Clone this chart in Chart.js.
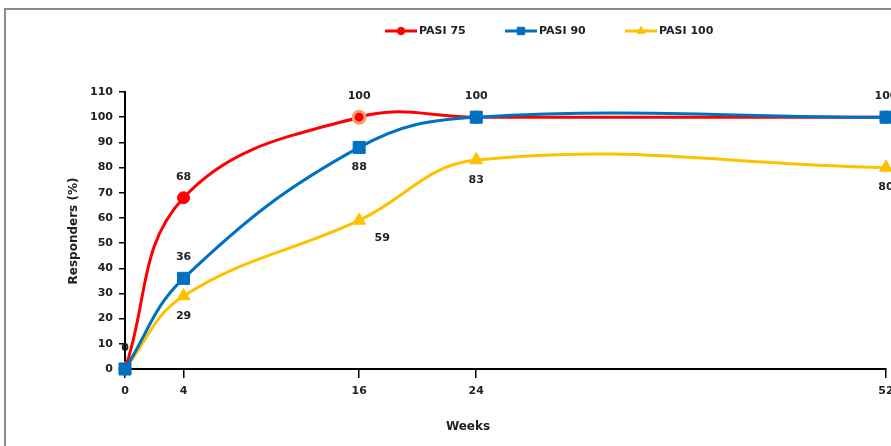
<!DOCTYPE html>
<html>
<head>
<meta charset="utf-8">
<script src="https://cdn.jsdelivr.net/npm/chart.js@4.4.1/dist/chart.umd.min.js"></script>
<style>
  html, body { margin: 0; padding: 0; background: #fff; overflow: hidden; width: 891px; height: 446px; }
  #frame { position: absolute; left: 4px; top: 8px; width: 1000px; height: 500px;
           border-top: 2px solid #8c8c8c; border-left: 2px solid #8c8c8c; }
  #wrap { position: absolute; left: 0; top: 0; width: 920px; height: 446px; }
</style>
</head>
<body>
<div id="frame"></div>
<div id="wrap"><canvas id="chart"></canvas></div>
<script>
// Weeks on the x axis and responder rates (%)
const weeks = [0, 4, 16, 24, 52];
const pasi75 = [0, 68, 100, 100, 100];
const pasi90 = [0, 36, 88, 100, 100];
const pasi100 = [0, 29, 59, 83, 80];
const yTicks = [0, 10, 20, 30, 40, 50, 60, 70, 80, 90, 100, 110];

// where each value label sits (null = not shown)
const place75 = ['above', 'above', 'above', null, null];
const place90 = [null, 'above', 'below', 'above', 'above'];
const place100 = [null, 'below', 'belowRight', 'below', 'below'];

const FONT = "'DejaVu Sans', 'Liberation Sans', sans-serif";

function toPoints(vals) {
    return vals.map((v, i) => ({ x: weeks[i], y: v }));
}

const series = [
    { label: 'PASI 75', data: pasi75, color: '#FF0000', style: 'circle', radius: 6, order: 1, place: place75 },
    { label: 'PASI 90', data: pasi90, color: '#0070C0', style: 'rect', radius: 8.5, order: 0, place: place90 },
    { label: 'PASI 100', data: pasi100, color: '#FFC000', style: 'triangle', radius: 7.5, order: 2, place: place100 }
];

const datasets = series.map(s => ({
    label: s.label,
    data: toPoints(s.data),
    borderColor: s.color,
    backgroundColor: s.color,
    pointBackgroundColor: s.color,
    pointBorderColor: s.style === 'circle' ? s.data.map((v, i) => i === 2 ? '#F4A06A' : s.color) : s.color,
    pointBorderWidth: s.style === 'circle' ? s.data.map((v, i) => i === 2 ? 3 : 1) : 1,
    borderWidth: 3,
    pointStyle: s.style,
    pointRadius: s.radius,
    tension: 0.4,
    clip: false,
    order: s.order
}));

// Draw value labels, legend and axis titles
const extrasPlugin = {
    id: 'extras',
    afterDraw(chart) {
        const ctx = chart.ctx;
        ctx.save();
        ctx.fillStyle = '#222';
        ctx.font = 'bold 11px ' + FONT;
        ctx.textAlign = 'center';
        ctx.textBaseline = 'middle';
        series.forEach((s, di) => {
            const meta = chart.getDatasetMeta(di);
            meta.data.forEach((pt, i) => {
                const p = s.place[i];
                if (!p) return;
                let x = pt.x, y = pt.y;
                if (p === 'above') y -= 21;
                else if (p === 'below') y += 20;
                else if (p === 'belowRight') { x += 23; y += 18; }
                ctx.fillText(String(s.data[i]), x, y);
            });
        });

        // legend
        const legendX = [385, 505, 625];
        const legendY = 31;
        series.forEach((s, i) => {
            const x0 = legendX[i];
            ctx.strokeStyle = s.color;
            ctx.lineWidth = 3;
            ctx.beginPath();
            ctx.moveTo(x0, legendY);
            ctx.lineTo(x0 + 32, legendY);
            ctx.stroke();
            ctx.fillStyle = s.color;
            ctx.lineWidth = 1;
            Chart.helpers.drawPoint(ctx, {
                pointStyle: s.style, radius: s.radius * 0.62, borderWidth: 1
            }, x0 + 16, legendY);
            ctx.fillStyle = '#222';
            ctx.textAlign = 'left';
            ctx.fillText(s.label, x0 + 34, legendY);
        });

        // axis titles
        ctx.textAlign = 'center';
        ctx.font = 'bold 12px ' + FONT;
        ctx.fillText('Weeks', 468, 427);
        ctx.translate(74, 231);
        ctx.rotate(-Math.PI / 2);
        ctx.fillText('Responders (%)', 0, 0);
        ctx.restore();
    }
};

new Chart(document.getElementById('chart'), {
    type: 'line',
    data: { datasets },
    plugins: [extrasPlugin],
    options: {
        responsive: true,
        maintainAspectRatio: false,
        animation: false,
        layout: { padding: { left: 0, right: 34, top: 92, bottom: 0 } },
        plugins: { legend: { display: false }, tooltip: { enabled: false } },
        scales: {
            x: {
                type: 'linear',
                min: 0,
                max: 52,
                afterBuildTicks: (scale) => { scale.ticks = weeks.map(v => ({ value: v })); },
                afterFit: (scale) => { scale.height = 77; },
                grid: { drawOnChartArea: false, tickLength: 9, color: '#000', lineWidth: 1.5 },
                border: { color: '#000', width: 2 },
                ticks: { color: '#222', font: { family: FONT, size: 11, weight: 'bold' }, padding: 7, maxRotation: 0 }
            },
            y: {
                min: 0,
                max: 110,
                afterBuildTicks: (scale) => { scale.ticks = yTicks.map(v => ({ value: v })); },
                afterFit: (scale) => { scale.width = 125; },
                grid: { drawOnChartArea: false, tickLength: 6, color: '#000', lineWidth: 1.5 },
                border: { color: '#000', width: 2 },
                ticks: { color: '#222', font: { family: FONT, size: 11, weight: 'bold' }, padding: 6 }
            }
        }
    }
});
</script>
</body>
</html>
